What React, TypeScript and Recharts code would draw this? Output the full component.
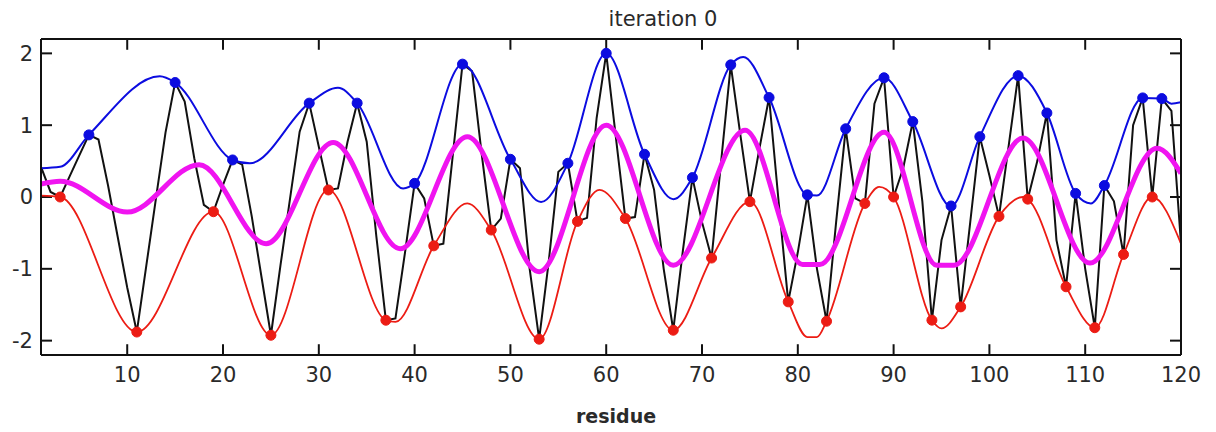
import React from 'react';
import { ComposedChart, Line, XAxis, YAxis, ReferenceLine } from 'recharts';

// profile value per residue, residues 1..120
const residueProfile = [
  0.42, 0.07, 0.0, 0.29, 0.58, 0.865, 0.8, 0.16, -0.55, -1.26,
  -1.88, -0.95, -0.02, 0.9, 1.594, 1.33, 0.54, -0.11, -0.205, 0.17,
  0.516, 0.45, -0.27, -1.1, -1.925, -0.95, -0.02, 0.91, 1.307, 0.7,
  0.098, 0.12, 0.77, 1.307, 0.77, -0.54, -1.716, -1.69, -0.77, 0.19,
  -0.02, -0.68, -0.65, 0.6, 1.85, 1.75, 0.6, -0.46, -0.3, 0.525,
  0.4, -0.99, -1.98, -0.9, 0.35, 0.47, -0.34, -0.29, 1.1, 2.0,
  0.84, -0.3, -0.28, 0.595, 0.1, -1.0, -1.855, -0.75, 0.27, -0.35,
  -0.85, 0.5, 1.84, 0.87, -0.065, 0.68, 1.385, -0.07, -1.46, -0.77,
  0.03, -1.0, -1.73, -0.35, 0.95, -0.02, -0.09, 1.3, 1.66, 0.0,
  0.4, 1.05, -0.06, -1.715, -0.6, -0.125, -1.53, -0.35, 0.84, 0.3,
  -0.27, 0.7, 1.69, -0.03, 0.5, 1.17, -0.6, -1.25, 0.05, -1.0,
  -1.82, 0.16, -0.06, -0.8, 1.0, 1.38, 0.0, 1.37, 1.2, -0.65,
];

const peakResidues = [6, 15, 21, 29, 34, 40, 45, 50, 56, 60, 64, 69, 73, 77, 81, 85, 89, 92, 96, 99, 103, 106, 109, 112, 116, 118];
const troughResidues = [3, 11, 19, 25, 31, 37, 42, 48, 53, 57, 62, 67, 71, 75, 79, 83, 87, 90, 94, 97, 101, 104, 108, 111, 114, 117];

// upper envelope
const upperResidues = [1, 3, 6, 13.4, 15, 21, 22.8, 29, 32, 34, 38.8, 40, 45, 50, 53.2, 56, 60, 64, 67, 69, 73, 74.3, 77, 81, 82, 85, 89, 92, 96, 99, 103, 106, 109, 110.6, 112, 116, 118, 119, 120];
const upperValues = [0.4, 0.42, 0.865, 1.68, 1.594, 0.516, 0.47, 1.307, 1.52, 1.307, 0.12, 0.19, 1.85, 0.525, -0.07, 0.47, 2.0, 0.595, -0.03, 0.27, 1.84, 1.95, 1.385, 0.03, 0.02, 0.95, 1.66, 1.05, -0.13, 0.84, 1.69, 1.17, 0.05, -0.09, 0.16, 1.38, 1.37, 1.3, 1.32];

// lower envelope
const lowerResidues = [1, 3, 11, 19, 25, 31, 37, 38, 42, 45.5, 48, 53, 57, 59.3, 62, 67, 71, 75, 79, 81, 82, 83, 87, 88.5, 90, 94, 95, 97, 101, 103.5, 104, 108, 111, 114, 117, 120];
const lowerValues = [0.02, 0.0, -1.88, -0.205, -1.925, 0.098, -1.716, -1.74, -0.68, -0.09, -0.46, -1.98, -0.34, 0.1, -0.3, -1.855, -0.85, -0.065, -1.46, -1.95, -1.95, -1.73, -0.09, 0.14, 0.0, -1.715, -1.83, -1.53, -0.27, 0.0, -0.03, -1.25, -1.82, -0.8, 0.0, -0.65];

// mean envelope, read at its turning points
const meanResidues = [1, 3, 10, 17.5, 24.5, 31.5, 38.5, 45.5, 53, 60, 67, 74.5, 80.5, 82.3, 89, 94.5, 96.3, 103.5, 110.5, 117.5, 120];
const meanValues = [0.18, 0.22, -0.21, 0.45, -0.65, 0.76, -0.72, 0.84, -1.04, 1.0, -0.95, 0.93, -0.94, -0.94, 0.9, -0.95, -0.95, 0.82, -0.92, 0.68, 0.33];

const xTicks = [10, 20, 30, 40, 50, 60, 70, 80, 90, 100, 110, 120];
const yTicks = [-2, -1, 0, 1, 2];

const FIRST = 1;
const LAST = residueProfile.length;
const Y_MIN = -2.2;
const Y_MAX = 2.2;
// inward tick length, in axis units (about 11px each way)
const X_TICK_LEN = 0.15;
const Y_TICK_LEN = 1.15;

const profileData = residueProfile.map((v, i) => ({ x: i + 1, y: v }));
const peakData = peakResidues.map((r) => ({ x: r, y: residueProfile[r - 1] }));
const troughData = troughResidues.map((r) => ({ x: r, y: residueProfile[r - 1] }));
const upperData = upperResidues.map((r, i) => ({ x: r, y: upperValues[i] }));
const lowerData = lowerResidues.map((r, i) => ({ x: r, y: lowerValues[i] }));
const meanData = meanResidues.map((r, i) => ({ x: r, y: meanValues[i] }));

const INK = '#111';
const BLUE = '#0c0ce0';
const RED = '#ec1c14';
const MAGENTA = '#f014f0';
const FONT = '"DejaVu Sans", sans-serif';

const axisLine = { stroke: INK, strokeWidth: 2 };
const tickText = { fill: '#2a2a2a', fontSize: 21, fontFamily: FONT };
const noLabel = () => '';

export default function App() {
  return (
    <div style={{ position: 'absolute', left: 0, top: 0, width: 1216, height: 432, background: '#fff' }}>
      <ComposedChart width={1216} height={432} margin={{ top: 38, right: 34, left: 0, bottom: 0 }}>
        <XAxis
          dataKey="x"
          type="number"
          domain={[FIRST, LAST]}
          ticks={xTicks}
          allowDataOverflow
          height={77}
          tickSize={0}
          tickMargin={12}
          tick={tickText}
          tickLine={false}
          axisLine={axisLine}
        />
        <XAxis
          xAxisId="top"
          orientation="top"
          dataKey="x"
          type="number"
          domain={[FIRST, LAST]}
          ticks={xTicks}
          allowDataOverflow
          height={1}
          tickSize={0}
          tickFormatter={noLabel}
          tickLine={false}
          axisLine={axisLine}
        />
        <YAxis
          type="number"
          domain={[Y_MIN, Y_MAX]}
          ticks={yTicks}
          allowDataOverflow
          width={41}
          tickSize={0}
          tickMargin={8}
          tick={tickText}
          tickLine={false}
          axisLine={axisLine}
        />
        <YAxis
          yAxisId="right"
          orientation="right"
          type="number"
          domain={[Y_MIN, Y_MAX]}
          ticks={yTicks}
          allowDataOverflow
          width={1}
          tickSize={0}
          tickFormatter={noLabel}
          tickLine={false}
          axisLine={axisLine}
        />

        {/* inward tick marks on all four sides */}
        {xTicks.map((t) => (
          <ReferenceLine key={`b${t}`} ifOverflow="visible" stroke={INK} strokeWidth={2}
            segment={[{ x: t, y: Y_MIN }, { x: t, y: Y_MIN + X_TICK_LEN }]} />
        ))}
        {xTicks.map((t) => (
          <ReferenceLine key={`t${t}`} ifOverflow="visible" stroke={INK} strokeWidth={2}
            segment={[{ x: t, y: Y_MAX }, { x: t, y: Y_MAX - X_TICK_LEN }]} />
        ))}
        {yTicks.map((t) => (
          <ReferenceLine key={`l${t}`} ifOverflow="visible" stroke={INK} strokeWidth={2}
            segment={[{ x: FIRST, y: t }, { x: FIRST + Y_TICK_LEN, y: t }]} />
        ))}
        {yTicks.map((t) => (
          <ReferenceLine key={`r${t}`} ifOverflow="visible" stroke={INK} strokeWidth={2}
            segment={[{ x: LAST, y: t }, { x: LAST - Y_TICK_LEN, y: t }]} />
        ))}

        <Line data={profileData} dataKey="y" type="linear" stroke={INK} strokeWidth={2} dot={false} activeDot={false} isAnimationActive={false} />
        <Line data={upperData} dataKey="y" type="monotone" stroke={BLUE} strokeWidth={2} dot={false} activeDot={false} isAnimationActive={false} />
        <Line data={lowerData} dataKey="y" type="monotone" stroke={RED} strokeWidth={1.8} dot={false} activeDot={false} isAnimationActive={false} />
        <Line data={meanData} dataKey="y" type="monotone" stroke={MAGENTA} strokeWidth={5} dot={false} activeDot={false} isAnimationActive={false} />
        <Line
          data={peakData}
          dataKey="y"
          stroke="none"
          dot={{ r: 5, fill: BLUE, stroke: BLUE, strokeWidth: 1 }}
          activeDot={false}
          isAnimationActive={false}
        />
        <Line
          data={troughData}
          dataKey="y"
          stroke="none"
          dot={{ r: 5, fill: RED, stroke: RED, strokeWidth: 1 }}
          activeDot={false}
          isAnimationActive={false}
        />
        {/* keep the mirror axes in use so their frame lines are drawn */}
        <Line data={profileData} dataKey="y" xAxisId="top" yAxisId="right" stroke="none" dot={false} activeDot={false} isAnimationActive={false} />
      </ComposedChart>

      <svg width={1216} height={432} style={{ position: 'absolute', left: 0, top: 0, pointerEvents: 'none' }}>
        <text x={663} y={26} textAnchor="middle" fill="#2a2a2a" fontSize={21} fontFamily={FONT}>
          iteration 0
        </text>
        <text x={616} y={423} textAnchor="middle" fill="#2a2a2a" fontSize={19} fontWeight="bold" fontFamily={FONT}>
          residue
        </text>
      </svg>
    </div>
  );
}
